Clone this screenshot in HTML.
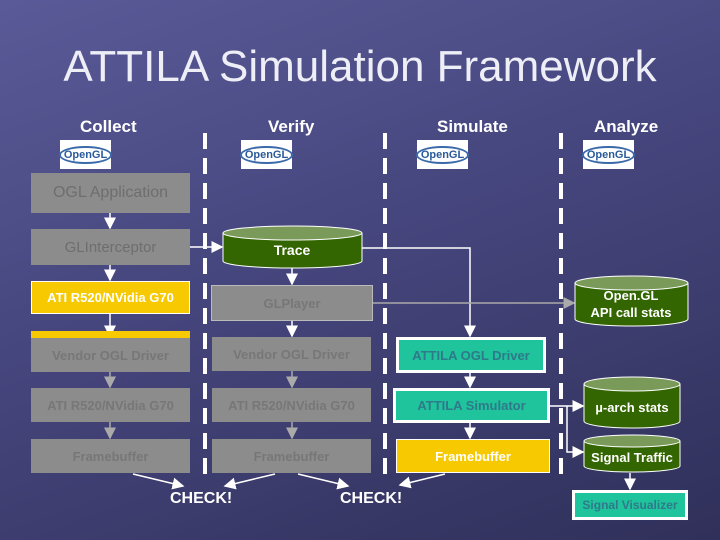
<!DOCTYPE html>
<html><head><style>
body{margin:0;width:720px;height:540px;overflow:hidden;background:linear-gradient(160deg,#5a5a98 0%,#46467e 45%,#30305a 100%);font-family:"Liberation Sans",sans-serif;position:relative}
.a{position:absolute}
.t{color:#eeeef6;font-size:44px;left:0;width:720px;text-align:center;top:42px}
.h{color:#fff;font-weight:bold;font-size:17px}
.b{position:absolute;display:flex;align-items:center;justify-content:center;font-weight:bold;font-size:14px;box-sizing:border-box;text-align:center}
.g{background:#8c8c8c;color:#777}
.y{background:#f7c900;color:#fff;border:1px solid #fff}
.tl{background:#1fc39c;color:#2f7a8a;border:3px solid #fff}
.logo{position:absolute;width:51px;height:29px;background:#fff;color:#2a5a9a;font-size:11px;font-weight:bold;display:flex;align-items:center;justify-content:center}
.logo span{border:2px solid #3a6aaa;border-radius:50%;padding:1px 3px}
.ck{position:absolute;color:#fff;font-weight:bold;font-size:16px}
</style></head><body>
<div class="a t">ATTILA Simulation Framework</div>
<div class="a h" style="left:80px;top:117px">Collect</div>
<div class="a h" style="left:268px;top:117px">Verify</div>
<div class="a h" style="left:437px;top:117px">Simulate</div>
<div class="a h" style="left:594px;top:117px">Analyze</div>
<div class="logo" style="left:60px;top:140px"><span>OpenGL</span></div>
<div class="logo" style="left:241px;top:140px"><span>OpenGL</span></div>
<div class="logo" style="left:417px;top:140px"><span>OpenGL</span></div>
<div class="logo" style="left:583px;top:140px"><span>OpenGL</span></div>
<svg class="a" style="left:0;top:0" width="720" height="540">
<defs><marker id="m" markerWidth="8" markerHeight="8" refX="7" refY="4" orient="auto"><path d="M0,0L8,4L0,8z" fill="#fff"/></marker>
<marker id="mg" markerWidth="8" markerHeight="8" refX="7" refY="4" orient="auto"><path d="M0,0L8,4L0,8z" fill="#aaa"/></marker></defs>
<g stroke="#fff" stroke-width="4" stroke-dasharray="16,9">
<line x1="205" y1="133" x2="205" y2="480"/><line x1="385" y1="133" x2="385" y2="480"/><line x1="561" y1="133" x2="561" y2="480"/></g>
<g stroke="#fff" stroke-width="1.5" fill="none">
<line x1="110" y1="213" x2="110" y2="228" marker-end="url(#m)"/>
<line x1="110" y1="265" x2="110" y2="280" marker-end="url(#m)"/>
<line x1="110" y1="313" x2="110" y2="336" marker-end="url(#m)"/>
<line x1="190" y1="247" x2="222" y2="247" marker-end="url(#m)"/>
<line x1="292" y1="268" x2="292" y2="284" marker-end="url(#m)"/>
<line x1="292" y1="321" x2="292" y2="336" marker-end="url(#m)"/>
<polyline points="362,248 470,248 470,336" marker-end="url(#m)"/>
<line x1="470" y1="372" x2="470" y2="387" marker-end="url(#m)"/>
<line x1="470" y1="422" x2="470" y2="438" marker-end="url(#m)"/>
<line x1="550" y1="406" x2="583" y2="406" marker-end="url(#m)"/>
<polyline points="567,406 567,452 583,452" marker-end="url(#m)"/>
<line x1="630" y1="473" x2="630" y2="489" marker-end="url(#m)"/>
<line x1="133" y1="474" x2="183" y2="486" marker-end="url(#m)"/>
<line x1="275" y1="474" x2="225" y2="486" marker-end="url(#m)"/>
<line x1="298" y1="474" x2="348" y2="486" marker-end="url(#m)"/>
<line x1="445" y1="474" x2="400" y2="485" marker-end="url(#m)"/>
</g>
<g stroke="#aaa" stroke-width="1.5">
<line x1="373" y1="303" x2="574" y2="303" marker-end="url(#mg)"/>
<line x1="110" y1="372" x2="110" y2="387" marker-end="url(#mg)"/>
<line x1="110" y1="422" x2="110" y2="438" marker-end="url(#mg)"/>
<line x1="292" y1="371" x2="292" y2="387" marker-end="url(#mg)"/>
<line x1="292" y1="422" x2="292" y2="438" marker-end="url(#mg)"/>
</g>
<g stroke="#fff" stroke-width="1" fill="#336600">
<path d="M223,233 v28 a69.5,7 0 0 0 139,0 v-28"/><ellipse cx="292.5" cy="233" rx="69.5" ry="7" fill="#7a9a5a"/>
<path d="M575,283 v36 a56.5,7 0 0 0 113,0 v-36"/><ellipse cx="631.5" cy="283" rx="56.5" ry="7" fill="#7a9a5a"/>
<path d="M584,384 v37 a48,7 0 0 0 96,0 v-37"/><ellipse cx="632" cy="384" rx="48" ry="7" fill="#7a9a5a"/>
<path d="M584,441 v25 a48,6 0 0 0 96,0 v-25"/><ellipse cx="632" cy="441" rx="48" ry="6" fill="#7a9a5a"/>
</g>
<g fill="#fff" font-family="Liberation Sans" font-weight="bold" font-size="14" text-anchor="middle">
<text x="292" y="255">Trace</text>
<text x="631" y="300" font-size="13">Open.GL</text><text x="631" y="317" font-size="13">API call stats</text>
<text x="632" y="412" font-size="13">µ-arch stats</text>
<text x="632" y="462" font-size="13">Signal Traffic</text>
</g>
</svg>
<div class="b g" style="left:31px;top:173px;width:159px;height:40px;font-size:16px;font-weight:normal;color:#6e6e6e">OGL Application</div>
<div class="b g" style="left:31px;top:229px;width:159px;height:36px;font-size:15px;font-weight:normal;color:#6e6e6e">GLInterceptor</div>
<div class="b y" style="left:31px;top:281px;width:159px;height:33px;font-size:13px">ATI R520/NVidia G70</div>
<div class="a" style="left:31px;top:331px;width:159px;height:7px;background:#f7c900"></div>
<div class="b g" style="left:31px;top:338px;width:159px;height:34px;font-size:13px">Vendor OGL Driver</div>
<div class="b g" style="left:31px;top:388px;width:159px;height:34px;font-size:13px">ATI R520/NVidia G70</div>
<div class="b g" style="left:31px;top:439px;width:159px;height:34px;font-size:13px">Framebuffer</div>
<div class="b g" style="left:211px;top:285px;width:162px;height:36px;font-size:13px;border:1px solid #bbb">GLPlayer</div>
<div class="b g" style="left:212px;top:337px;width:159px;height:34px;font-size:13px">Vendor OGL Driver</div>
<div class="b g" style="left:212px;top:388px;width:159px;height:34px;font-size:13px">ATI R520/NVidia G70</div>
<div class="b g" style="left:212px;top:439px;width:159px;height:34px;font-size:13px">Framebuffer</div>
<div class="b tl" style="left:396px;top:337px;width:150px;height:36px;font-size:13px">ATTILA OGL Driver</div>
<div class="b tl" style="left:393px;top:388px;width:157px;height:35px;font-size:13px">ATTILA Simulator</div>
<div class="b y" style="left:396px;top:439px;width:154px;height:34px;font-size:13px">Framebuffer</div>
<div class="b tl" style="left:572px;top:490px;width:116px;height:30px;font-size:12px">Signal Visualizer</div>
<div class="ck" style="left:170px;top:490px">CHECK!</div>
<div class="ck" style="left:340px;top:490px">CHECK!</div>
</body></html>
